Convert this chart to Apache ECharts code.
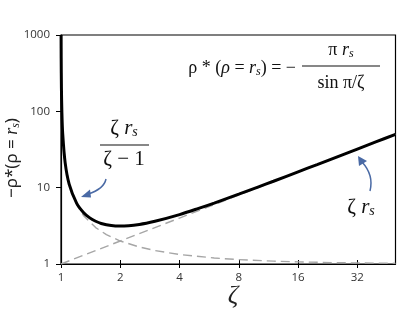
<!DOCTYPE html>
<html><head><meta charset="utf-8">
<script src="https://cdn.jsdelivr.net/npm/echarts@6/dist/echarts.min.js"></script>
<style>html,body{margin:0;padding:0;background:#fff}#c{width:407px;height:332px}</style>
</head><body><div id="c"></div>
<script>
// x values (zeta) and -rho* values
const zeta = [1.001,1.002,1.005,1.01,1.02,1.05,1.1,1.2,1.3,1.4,1.5,1.6,1.8,2,2.5,3,4,5,6,8,10,12,16,20,24,32,40,50];
const rhoStar = [1001,501,201,101,51.0,21.1,11.15,6.28,4.74,4.02,3.63,3.40,3.19,3.14,3.30,3.63,4.44,5.35,6.28,8.21,10.17,12.14,16.10,20.08,24.07,32.05,40.04,50.03];
// asymptote zeta*r_s
const asymX = [1,2,4,8,16,32,50];
const asymY = [1,2,4,8,16,32,50];
// asymptote zeta*r_s/(zeta-1)
const poleX = [1.001,1.002,1.005,1.01,1.02,1.05,1.1,1.2,1.3,1.5,1.7,2,2.5,3,4,6,8,12,16,24,32,50];
const poleY = [1001,501,201,101,51,21,11,6,4.33,3,2.43,2,1.67,1.5,1.33,1.2,1.14,1.09,1.067,1.043,1.032,1.02];
const xTicks = ['1','2','4','8','16','32'];
const yTicks = ['1','10','100','1000'];

const pairs = (xs, ys) => xs.map((x, i) => [x, ys[i]]);
const chart = echarts.init(document.getElementById('c'));
const serif = 'Liberation Serif';
const blue = '#4a6aa5';
const dash = {color:'#a6a6a6', width:1.4, type:[9,5]};
const xCommon = {type:'log', logBase:2, min:1, max:50, interval:1};
chart.setOption({
  animation:false,
  grid:{left:61, right:11.5, top:35, bottom:68, show:true, borderColor:'#000', borderWidth:1.2},
  xAxis:[
    Object.assign({}, xCommon, {
      axisLine:{lineStyle:{color:'#000', width:1.2}},
      axisTick:{length:4, lineStyle:{color:'#000'}},
      splitLine:{show:false}, minorTick:{show:false},
      axisLabel:{color:'#333', fontFamily:'Open Sans', fontSize:11.5, margin:8, showMaxLabel:false,
        formatter:v => { const s = String(Math.round(v)); return xTicks.includes(s) ? s : ''; }}
    }),
    Object.assign({}, xCommon, {
      position:'bottom', axisLine:{show:false},
      axisTick:{inside:true, length:4, lineStyle:{color:'#000'}},
      axisLabel:{show:false}, splitLine:{show:false}
    })
  ],
  yAxis:{type:'log', logBase:10, min:1, max:1000, interval:1,
    axisLine:{show:true, lineStyle:{color:'#000', width:1.2}},
    axisTick:{show:true, length:5, lineStyle:{color:'#000'}},
    splitLine:{show:false},
    axisLabel:{color:'#333', fontFamily:'Open Sans', fontSize:11.5, margin:11,
      formatter:v => { const s = String(Math.round(v)); return yTicks.includes(s) ? s : ''; }}
  },
  series:[
    {type:'line', data:pairs(poleX, poleY), showSymbol:false, lineStyle:dash, z:1},
    {type:'line', data:pairs(asymX, asymY), showSymbol:false, lineStyle:dash, z:1},
    {type:'line', data:pairs(zeta, rhoStar), showSymbol:false, smooth:0.3, lineStyle:{color:'#000', width:3}, z:2}
  ],
  graphic:[
    // y-axis title
    {type:'text', x:12, y:158, rotation:Math.PI/2,
      style:{text:'−ρ*(ρ = {i|r}{s|s})', font:'17px "Noto Sans"', fill:'#222', align:'center', verticalAlign:'middle',
        rich:{i:{fontFamily:serif, fontStyle:'italic', fontSize:18, fill:'#222'}, s:{fontFamily:serif, fontStyle:'italic', fontSize:12, padding:[8,0,0,0], fill:'#222'}}}},
    // x-axis title
    {type:'text', x:233, y:296, style:{text:'ζ', font:'italic 26px "Liberation Serif"', fill:'#222', align:'center', verticalAlign:'middle'}},
    // top-right formula
    {type:'text', x:296, y:68, style:{text:'ρ * ({i|ρ} = {i|r}{s|s}) = −', font:'18px "Liberation Serif"', fill:'#111', align:'right', verticalAlign:'middle',
      rich:{i:{fontFamily:serif, fontStyle:'italic', fontSize:18, fill:'#111'}, s:{fontFamily:serif, fontStyle:'italic', fontSize:12, padding:[8,0,0,0], fill:'#111'}}}},
    {type:'text', x:341, y:50, style:{text:'π {i|r}{s|s}', font:'18px "Liberation Serif"', fill:'#111', align:'center', verticalAlign:'middle',
      rich:{i:{fontFamily:serif, fontStyle:'italic', fontSize:18, fill:'#111'}, s:{fontFamily:serif, fontStyle:'italic', fontSize:12, padding:[8,0,0,0], fill:'#111'}}}},
    {type:'line', shape:{x1:302, y1:66, x2:380, y2:66}, style:{stroke:'#111', lineWidth:1.2}},
    {type:'text', x:341, y:83, style:{text:'sin π/ζ', font:'18px "Liberation Serif"', fill:'#111', align:'center', verticalAlign:'middle'}},
    // left fraction label
    {type:'text', x:124, y:128, style:{text:'ζ {i|r}{s|s}', font:'21px "Liberation Serif"', fill:'#111', align:'center', verticalAlign:'middle',
      rich:{i:{fontFamily:serif, fontStyle:'italic', fontSize:21, fill:'#111'}, s:{fontFamily:serif, fontStyle:'italic', fontSize:14, padding:[9,0,0,0], fill:'#111'}}}},
    {type:'line', shape:{x1:100, y1:145, x2:149, y2:145}, style:{stroke:'#111', lineWidth:1.2}},
    {type:'text', x:124, y:159, style:{text:'ζ − 1', font:'21px "Liberation Serif"', fill:'#111', align:'center', verticalAlign:'middle'}},
    // right label
    {type:'text', x:361, y:207, style:{text:'ζ {i|r}{s|s}', font:'21px "Liberation Serif"', fill:'#111', align:'center', verticalAlign:'middle',
      rich:{i:{fontFamily:serif, fontStyle:'italic', fontSize:21, fill:'#111'}, s:{fontFamily:serif, fontStyle:'italic', fontSize:14, padding:[9,0,0,0], fill:'#111'}}}},
    // arrows
    {type:'bezierCurve', shape:{x1:106, y1:179, cpx1:104, cpy1:189, x2:88, y2:194}, style:{stroke:blue, lineWidth:1.5, fill:null}},
    {type:'polygon', shape:{points:[[81,197],[90,189.5],[91,197.5]]}, style:{fill:blue}},
    {type:'bezierCurve', shape:{x1:370, y1:191, cpx1:374, cpy1:175, x2:362, y2:162}, style:{stroke:blue, lineWidth:1.5, fill:null}},
    {type:'polygon', shape:{points:[[358,156],[367,161],[359,166]]}, style:{fill:blue}}
  ]
});
</script></body></html>
